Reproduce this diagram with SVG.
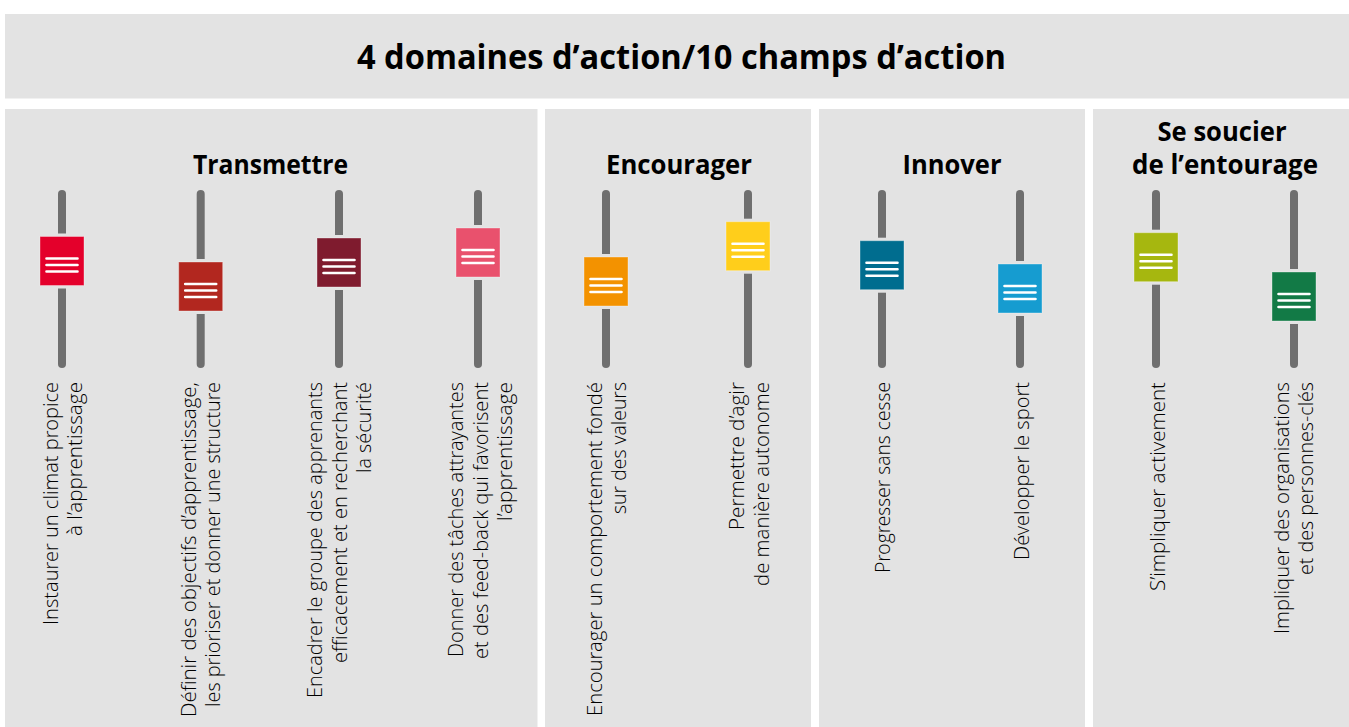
<svg xmlns="http://www.w3.org/2000/svg" width="1349" height="727" viewBox="0 0 1349 727">
<style>
.bg{fill:#E3E3E3}
.title{font-family:"Open Sans","Liberation Sans",sans-serif;font-weight:700;fill:#000;text-anchor:middle}
.h1{font-size:34px}
.h2{font-size:26px}
.lbl{font-family:"Open Sans Light","Open Sans","Liberation Sans",sans-serif;font-weight:300;font-size:20px;fill:#000;text-anchor:end}
.track{stroke:#6F6F6F;stroke-width:8;stroke-linecap:round;fill:none}
.gap{fill:#E3E3E3}
.knob{stroke:#ffffff;stroke-opacity:0.35;stroke-width:1}
.grip{stroke:#ffffff;stroke-width:2.6;stroke-linecap:round;fill:none}
</style>
<rect width="1349" height="727" fill="#ffffff"/>
<g id="header">
<rect class="bg" x="5" y="14" width="1344" height="84.5"/>
<text class="title h1" x="681.5" y="69" textLength="649" lengthAdjust="spacingAndGlyphs">4 domaines d’action/10 champs d’action</text>
</g>
<g id="panel-transmettre">
<rect class="bg" x="5" y="109" width="532.5" height="618"/>
<text class="title h2" x="270.5" y="174" textLength="155" lengthAdjust="spacingAndGlyphs">Transmettre</text>
</g>
<g id="panel-encourager">
<rect class="bg" x="545" y="109" width="266" height="618"/>
<text class="title h2" x="679" y="174" textLength="146" lengthAdjust="spacingAndGlyphs">Encourager</text>
</g>
<g id="panel-innover">
<rect class="bg" x="819" y="109" width="266" height="618"/>
<text class="title h2" x="952" y="174" textLength="99" lengthAdjust="spacingAndGlyphs">Innover</text>
</g>
<g id="panel-entourage">
<rect class="bg" x="1093" y="109" width="256" height="618"/>
<text class="title h2" x="1222" y="141" textLength="129" lengthAdjust="spacingAndGlyphs">Se soucier</text>
<text class="title h2" x="1225" y="174" textLength="186" lengthAdjust="spacingAndGlyphs">de l’entourage</text>
</g>

<g id="slider-1">
<line class="track" x1="62" y1="194" x2="62" y2="364"/>
<rect class="gap" x="56" y="233.5" width="12" height="55"/>
<rect class="knob" x="40" y="236.5" width="44" height="49" fill="#E4002B"/>
<path class="grip" d="M46.5 258.5H77.5M46.5 265H77.5M46.5 271.5H77.5"/>
<g class="lbl" transform="translate(62,382) rotate(-90)">
<text x="0" y="-4.5" textLength="243" lengthAdjust="spacingAndGlyphs">Instaurer un climat propice</text>
<text x="0" y="20" textLength="154" lengthAdjust="spacingAndGlyphs">à l’apprentissage</text>
</g>
</g>

<g id="slider-2">
<line class="track" x1="200.7" y1="194" x2="200.7" y2="364"/>
<rect class="gap" x="194.7" y="259" width="12" height="55"/>
<rect class="knob" x="178.7" y="262" width="44" height="49" fill="#B2271F"/>
<path class="grip" d="M185.2 284H216.2M185.2 290.5H216.2M185.2 297H216.2"/>
<g class="lbl" transform="translate(200.7,382) rotate(-90)">
<text x="0" y="-5" textLength="335" lengthAdjust="spacingAndGlyphs">Définir des objectifs d’apprentissage,</text>
<text x="0" y="19.5" textLength="325" lengthAdjust="spacingAndGlyphs">les prioriser et donner une structure</text>
</g>
</g>

<g id="slider-3">
<line class="track" x1="339" y1="194" x2="339" y2="364"/>
<rect class="gap" x="333" y="235" width="12" height="55"/>
<rect class="knob" x="317" y="238" width="44" height="49" fill="#7F1B2E"/>
<path class="grip" d="M323.5 260H354.5M323.5 266.5H354.5M323.5 273H354.5"/>
<g class="lbl" transform="translate(339,382) rotate(-90)">
<text x="0" y="-17" textLength="316" lengthAdjust="spacingAndGlyphs">Encadrer le groupe des apprenants</text>
<text x="0" y="7.5" textLength="281" lengthAdjust="spacingAndGlyphs">efficacement et en recherchant</text>
<text x="0" y="32" textLength="91" lengthAdjust="spacingAndGlyphs">la sécurité</text>
</g>
</g>

<g id="slider-4">
<line class="track" x1="478" y1="194" x2="478" y2="364"/>
<rect class="gap" x="472" y="225" width="12" height="55"/>
<rect class="knob" x="456" y="228" width="44" height="49" fill="#E9516D"/>
<path class="grip" d="M462.5 250H493.5M462.5 256.5H493.5M462.5 263H493.5"/>
<g class="lbl" transform="translate(478,382) rotate(-90)">
<text x="0" y="-15" textLength="275" lengthAdjust="spacingAndGlyphs">Donner des tâches attrayantes</text>
<text x="0" y="9.5" textLength="277" lengthAdjust="spacingAndGlyphs">et des feed-back qui favorisent</text>
<text x="0" y="34" textLength="139" lengthAdjust="spacingAndGlyphs">l’apprentissage</text>
</g>
</g>

<g id="slider-5">
<line class="track" x1="606" y1="194" x2="606" y2="364"/>
<rect class="gap" x="600" y="254" width="12" height="55"/>
<rect class="knob" x="584" y="257" width="44" height="49" fill="#F39200"/>
<path class="grip" d="M590.5 279H621.5M590.5 285.5H621.5M590.5 292H621.5"/>
<g class="lbl" transform="translate(606,382) rotate(-90)">
<text x="0" y="-4.5" textLength="334" lengthAdjust="spacingAndGlyphs">Encourager un comportement fondé</text>
<text x="0" y="20" textLength="132" lengthAdjust="spacingAndGlyphs">sur des valeurs</text>
</g>
</g>

<g id="slider-6">
<line class="track" x1="748" y1="194" x2="748" y2="364"/>
<rect class="gap" x="742" y="218.7" width="12" height="55"/>
<rect class="knob" x="726" y="221.7" width="44" height="49" fill="#FFCE1B"/>
<path class="grip" d="M732.5 243.7H763.5M732.5 250.2H763.5M732.5 256.7H763.5"/>
<g class="lbl" transform="translate(748,382) rotate(-90)">
<text x="0" y="-4" textLength="148" lengthAdjust="spacingAndGlyphs">Permettre d’agir</text>
<text x="0" y="20.5" textLength="204" lengthAdjust="spacingAndGlyphs">de manière autonome</text>
</g>
</g>

<g id="slider-7">
<line class="track" x1="882" y1="194" x2="882" y2="364"/>
<rect class="gap" x="876" y="237.7" width="12" height="55"/>
<rect class="knob" x="860" y="240.7" width="44" height="49" fill="#006D8F"/>
<path class="grip" d="M866.5 262.7H897.5M866.5 269.2H897.5M866.5 275.7H897.5"/>
<g class="lbl" transform="translate(882,382) rotate(-90)">
<text x="0" y="8" textLength="191" lengthAdjust="spacingAndGlyphs">Progresser sans cesse</text>
</g>
</g>

<g id="slider-8">
<line class="track" x1="1020" y1="194" x2="1020" y2="364"/>
<rect class="gap" x="1014" y="261" width="12" height="55"/>
<rect class="knob" x="998" y="264" width="44" height="49" fill="#169CD0"/>
<path class="grip" d="M1004.5 286H1035.5M1004.5 292.5H1035.5M1004.5 299H1035.5"/>
<g class="lbl" transform="translate(1020,382) rotate(-90)">
<text x="0" y="8.5" textLength="178" lengthAdjust="spacingAndGlyphs">Développer le sport</text>
</g>
</g>

<g id="slider-9">
<line class="track" x1="1156" y1="194" x2="1156" y2="364"/>
<rect class="gap" x="1150" y="229.7" width="12" height="55"/>
<rect class="knob" x="1134" y="232.7" width="44" height="49" fill="#A6B70F"/>
<path class="grip" d="M1140.5 254.7H1171.5M1140.5 261.2H1171.5M1140.5 267.7H1171.5"/>
<g class="lbl" transform="translate(1156,382) rotate(-90)">
<text x="0" y="8.5" textLength="209" lengthAdjust="spacingAndGlyphs">S’impliquer activement</text>
</g>
</g>

<g id="slider-10">
<line class="track" x1="1294" y1="194" x2="1294" y2="364"/>
<rect class="gap" x="1288" y="269" width="12" height="55"/>
<rect class="knob" x="1272" y="272" width="44" height="49" fill="#127A46"/>
<path class="grip" d="M1278.5 294H1309.5M1278.5 300.5H1309.5M1278.5 307H1309.5"/>
<g class="lbl" transform="translate(1294,382) rotate(-90)">
<text x="0" y="-5.5" textLength="252" lengthAdjust="spacingAndGlyphs">Impliquer des organisations</text>
<text x="0" y="19" textLength="193" lengthAdjust="spacingAndGlyphs">et des personnes-clés</text>
</g>
</g>
<g id="connectors"></g>
</svg>
